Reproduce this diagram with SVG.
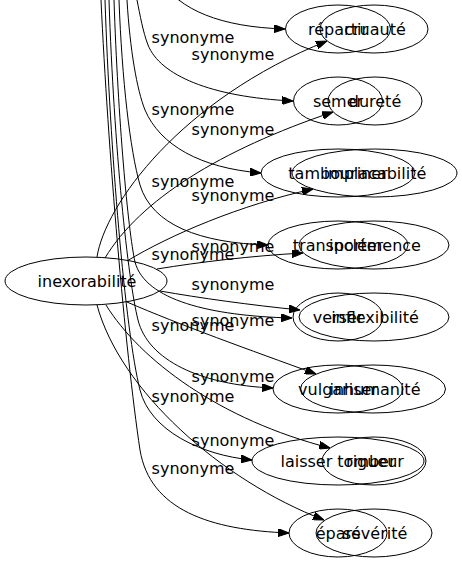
<svg xmlns="http://www.w3.org/2000/svg" width="462" height="563" viewBox="0 0 462 563">
<style>
.n ellipse{fill:none;stroke:#000;stroke-width:1}
text{font-family:"DejaVu Sans","Liberation Sans",sans-serif;font-size:16px;fill:#000;text-anchor:middle}
.e path{fill:none;stroke:#000;stroke-width:1;marker-end:url(#arr)}
</style>
<defs>
<marker id="arr" viewBox="0 0 11 8" refX="11" refY="4" markerWidth="11" markerHeight="8" markerUnits="userSpaceOnUse" orient="auto">
<path d="M0,0 L11,4 L0,8 z" fill="#000" stroke="#000" stroke-width="1"/>
</marker>
</defs>
<rect width="462" height="563" fill="#fff"/>
<g id="connectors">
<g class="e" id="e-repartir"><path d="M160,-20 C180,10 220,27 285,29"/></g>
<g class="e" id="e-semer"><path d="M137,0 C140,15 143,32 148,45 C160,75 210,97 293,101"/><text x="193" y="43">synonyme</text></g>
<g class="e" id="e-tambouriner"><path d="M127,0 C130,50 137,90 145,110 C160,145 200,168 261,173"/><text x="193" y="115">synonyme</text></g>
<g class="e" id="e-transporter"><path d="M119,0 C122,80 130,150 140,185 C152,225 200,243 268,245"/><text x="193" y="186.5">synonyme</text></g>
<g class="e" id="e-verser"><path d="M114,0 C118,120 128,230 135,262 C145,300 210,316 292,318"/><text x="193" y="259.5">synonyme</text></g>
<g class="e" id="e-vulgariser"><path d="M109,0 C114,150 128,280 138,320 C148,360 200,385 273,388"/><text x="193" y="331">synonyme</text></g>
<g class="e" id="e-laisser"><path d="M105,0 C110,150 125,330 140,390 C150,430 200,455 252,460"/><text x="193" y="401.5">synonyme</text></g>
<g class="e" id="e-epars"><path d="M101,0 C108,150 125,350 140,450 C150,510 210,530 289,533"/><text x="193" y="474">synonyme</text></g>
<g class="e" id="e-cruaute"><path d="M97,257 C105,205 180,100 327,41"/><text x="233" y="59.5">synonyme</text></g>
<g class="e" id="e-durete"><path d="M105,258 C140,200 220,150 333,112"/><text x="233" y="134.5">synonyme</text></g>
<g class="e" id="e-implacabilite"><path d="M127,261 C170,235 240,205 313,189"/><text x="233" y="200.5">synonyme</text></g>
<g class="e" id="e-inclemence"><path d="M157,269 C200,262 250,256 303,253"/><text x="233" y="251.5">synonyme</text></g>
<g class="e" id="e-inflexibilite"><path d="M160,291 C200,298 250,305 300,310"/><text x="233" y="289.5">synonyme</text></g>
<g class="e" id="e-inhumanite"><path d="M127,302 C180,325 250,350 316,374"/><text x="233" y="326">synonyme</text></g>
<g class="e" id="e-rigueur"><path d="M106,305 C140,360 220,420 330,448"/><text x="233" y="381.5">synonyme</text></g>
<g class="e" id="e-severite"><path d="M97,305 C120,390 220,480 324,520"/><text x="233" y="446">synonyme</text></g>
</g>
<g class="n" id="n-inexorabilite"><ellipse cx="86" cy="281" rx="81" ry="24"/><text x="87" y="287">inexorabilité</text></g>
<g class="n" id="n-repartir"><ellipse cx="338" cy="29" rx="52.5" ry="24"/><text x="338" y="35">répartir</text></g>
<g class="n" id="n-cruaute"><ellipse cx="374" cy="29" rx="54" ry="24"/><text x="375" y="35">cruauté</text></g>
<g class="n" id="n-semer"><ellipse cx="338" cy="101" rx="44.5" ry="24"/><text x="338" y="107">semer</text></g>
<g class="n" id="n-durete"><ellipse cx="375" cy="101" rx="47" ry="24"/><text x="375" y="107">dureté</text></g>
<g class="n" id="n-tambouriner"><ellipse cx="338" cy="173" rx="77" ry="24"/><text x="338" y="179">tambouriner</text></g>
<g class="n" id="n-implacabilite"><ellipse cx="374.5" cy="173" rx="82.5" ry="24"/><text x="375" y="179">implacabilité</text></g>
<g class="n" id="n-transporter"><ellipse cx="338" cy="245" rx="70" ry="24"/><text x="338" y="251">transporter</text></g>
<g class="n" id="n-inclemence"><ellipse cx="374" cy="245" rx="75" ry="24"/><text x="375" y="251">inclémence</text></g>
<g class="n" id="n-verser"><ellipse cx="338" cy="317" rx="45" ry="24"/><text x="338" y="323">verser</text></g>
<g class="n" id="n-inflexibilite"><ellipse cx="374" cy="317" rx="75" ry="24"/><text x="375" y="323">inflexibilité</text></g>
<g class="n" id="n-vulgariser"><ellipse cx="338" cy="389" rx="65" ry="24"/><text x="338" y="395">vulgariser</text></g>
<g class="n" id="n-inhumanite"><ellipse cx="373" cy="389" rx="72.5" ry="24"/><text x="375" y="395">inhumanité</text></g>
<g class="n" id="n-laisser-tomber"><ellipse cx="338" cy="461" rx="86" ry="24"/><text x="338" y="467">laisser tomber</text></g>
<g class="n" id="n-rigueur"><ellipse cx="374" cy="461" rx="52" ry="24"/><text x="375" y="467">rigueur</text></g>
<g class="n" id="n-epars"><ellipse cx="338" cy="533" rx="49" ry="24"/><text x="338" y="539">épars</text></g>
<g class="n" id="n-severite"><ellipse cx="374" cy="533" rx="58" ry="24"/><text x="375" y="539">sévérité</text></g>
</svg>
